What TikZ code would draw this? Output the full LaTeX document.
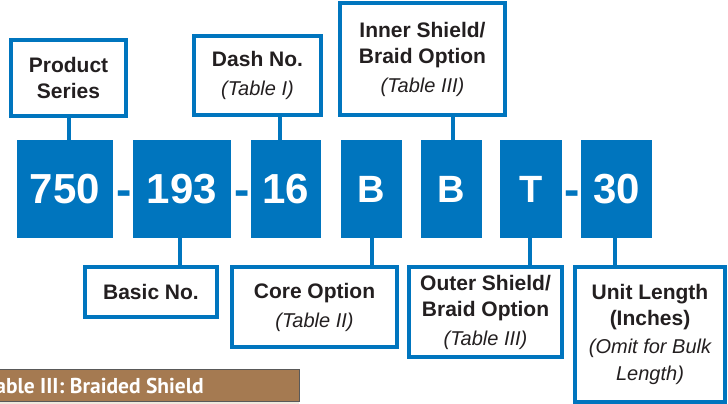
\documentclass[tikz,border=0pt]{standalone}
\usepackage{fontspec}
\setmainfont{Liberation Sans}
\newfontfamily\hdrfont{PT Sans}
\usetikzlibrary{positioning}
\definecolor{pnblue}{HTML}{0075BE}
\definecolor{hdrbrown}{HTML}{A57A51}
\definecolor{rowbeige}{HTML}{EFE9DD}
\definecolor{inkgray}{HTML}{231F20}

\tikzset{
    code/.style={fill=pnblue, text=white, inner sep=0pt, minimum height=98pt,
        font=\bfseries\fontsize{42}{42}\selectfont},
    letter/.style={code, font=\bfseries\fontsize{38}{38}\selectfont},
    sep/.style={text=pnblue, inner sep=0pt, anchor=base,
        font=\bfseries\fontsize{46}{46}\selectfont},
    field/.style={draw=pnblue, line width=4pt, fill=white, inner sep=0pt,
        align=center, text=inkgray, font=\bfseries\fontsize{21}{26}\selectfont},
    link/.style={draw=pnblue, line width=4pt}
}
\newcommand{\tbl}[1]{{\mdseries\itshape\fontsize{20}{26}\selectfont #1}}

\begin{document}
\begin{tikzpicture}[x=1pt, y=-1pt]
    \clip (0,0) rectangle (728,404);
    % part number
    \node[code, minimum width=96pt] (c750) at (65,189) {750};
    \node[code, minimum width=98pt] (c193) at (182,189) {193};
    \node[code, minimum width=70pt] (c16) at (286,189) {16};
    \node[letter, minimum width=61pt] (cb1) at (371.5,189) {B};
    \node[letter, minimum width=61pt] (cb2) at (451.5,189) {B};
    \node[letter, minimum width=62pt] (ct) at (531,189) {T};
    \node[code, minimum width=71pt] (c30) at (616.5,189) {30};
    \node[sep] (d1) at (124,205) {-};
    \node[sep] (d2) at (242,205) {-};
    \node[sep] (d3) at (572.5,205) {-};

    % fields above
    \node[field, minimum width=115pt, minimum height=76pt] (series) at (68.5,78)
        {Product\\Series};
    \node[field, minimum width=127pt, minimum height=79pt] (dash) at (257.5,75.5)
        {Dash No.\\[3pt]\tbl{(Table I)}};
    \node[field, minimum width=165pt, minimum height=112pt] (inner) at (422.5,59)
        {Inner Shield/\\Braid Option\\[3pt]\tbl{(Table III)}};
    % fields below
    \node[field, minimum width=132pt, minimum height=50pt] (basic) at (151,292)
        {Basic No.};
    \node[field, minimum width=165pt, minimum height=80pt] (core) at (314.5,307)
        {Core Option\\[3pt]\tbl{(Table II)}};
    \node[field, minimum width=153pt, minimum height=90pt] (outer) at (485.5,312)
        {Outer Shield/\\Braid Option\\[3pt]\tbl{(Table III)}};
    \node[field, minimum width=150pt, minimum height=135pt] (unit) at (650,334.5)
        {Unit Length\\(Inches)\\[2pt]\tbl{(Omit for Bulk}\\[1pt]\tbl{Length)}};

    \draw[link] (series.south) -- (series.south |- c750.north);
    \draw[link] ([xshift=-6pt]c16.north) -- ([xshift=-6pt]c16.north |- dash.south);
    \draw[link] ([xshift=1.5pt]cb2.north) -- ([xshift=1.5pt]cb2.north |- inner.south);
    \draw[link] ([xshift=-2pt]c193.south) -- ([xshift=-2pt]c193.south |- basic.north);
    \draw[link] (cb1.south) -- (cb1.south |- core.north);
    \draw[link] ([xshift=-1pt]ct.south) -- ([xshift=-1pt]ct.south |- outer.north);
    \draw[link] ([xshift=-1.5pt]c30.south) -- ([xshift=-1.5pt]c30.south |- unit.north);

    % table header, cut off at the edge
    \fill[rowbeige] (-5,401) rectangle (299,412);
    \draw[draw=black!65, fill=hdrbrown, line width=1pt] (-5,369) rectangle (299,401);
    \node[anchor=base east, inner sep=0pt, text=white,
        font=\hdrfont\bfseries\fontsize{21.5}{21.5}\selectfont] (hdr) at (204,393)
        {Table III: Braided Shield};
\end{tikzpicture}
\end{document}
